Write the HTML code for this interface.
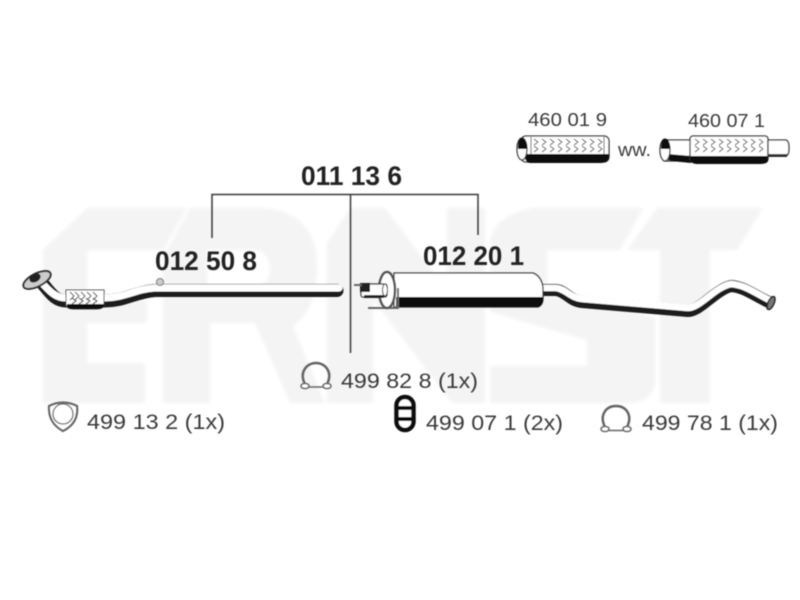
<!DOCTYPE html>
<html><head><meta charset="utf-8"><style>
html,body{margin:0;padding:0;background:#fff;width:800px;height:600px;overflow:hidden}
svg{display:block}
text{font-family:"Liberation Sans",sans-serif}
.b{font-weight:bold;font-size:26.5px;fill:#222}
.n{font-size:21.5px;fill:#3a3a3a}
.s{font-size:18.5px;fill:#3a3a3a}
</style></head><body>
<svg width="800" height="600" viewBox="0 0 800 600" xmlns="http://www.w3.org/2000/svg">
<defs><filter id="bl" x="-5%" y="-5%" width="110%" height="110%"><feGaussianBlur stdDeviation="0.45"/></filter>
<filter id="bw" x="-5%" y="-5%" width="110%" height="110%"><feGaussianBlur stdDeviation="1.5"/></filter></defs>
<rect width="800" height="600" fill="#fff"/>
<g fill="#f4f4f4" filter="url(#bw)">
<path d="M87 208H187L163 250H87V300H147V323H87V363H145V403H43V250Z"/>
<path d="M190 208H263Q317 212 317 267Q317 310 293 326L325 403H290L255 323H210V403H163V257Z M207 250V285H258Q272 282 270 266Q268 252 255 250Z" fill-rule="evenodd"/>
<path d="M327 243L350 208H385L447 290V208H485V403H452L373 300V403H327Z"/>
<path d="M533 208H643L620 250H547V285L655 318V385Q650 403 630 403H490V366H587V340L490 312V240Q495 215 533 208Z"/>
<path d="M657 208H763L737 250H710V403H660V250H627Z"/>
</g>
<g filter="url(#bl)">
<g stroke="#3a3a3a" stroke-width="1.5" fill="none">
<path d="M212 238V194.500H478V235"/>
<path d="M350.500 194.500V353"/>
</g>
<text class="b" x="301" y="185" textLength="101" lengthAdjust="spacingAndGlyphs">011 13 6</text>
<text class="b" x="155" y="270" textLength="102" lengthAdjust="spacingAndGlyphs">012 50 8</text>
<text class="b" x="423" y="265" textLength="101" lengthAdjust="spacingAndGlyphs">012 20 1</text>
<text class="s" x="528" y="126" textLength="79" lengthAdjust="spacingAndGlyphs">460 01 9</text>
<text class="s" x="688" y="127" textLength="77" lengthAdjust="spacingAndGlyphs">460 07 1</text>
<text class="s" x="618" y="156" textLength="33" lengthAdjust="spacingAndGlyphs">ww.</text>
<text class="n" x="341" y="388" textLength="137" lengthAdjust="spacingAndGlyphs">499 82 8 (1x)</text>
<text class="n" x="87" y="429" textLength="138" lengthAdjust="spacingAndGlyphs">499 13 2 (1x)</text>
<text class="n" x="426" y="430" textLength="137" lengthAdjust="spacingAndGlyphs">499 07 1 (2x)</text>
<text class="n" x="642" y="430" textLength="136" lengthAdjust="spacingAndGlyphs">499 78 1 (1x)</text>

<!-- front pipe 012 50 8 -->
<g fill="none" stroke-linecap="round" stroke-linejoin="round">
<path d="M42 283C50 292 55 301 66 301H104C125 301 135 292 155 290.500H337" stroke="#1c1c1c" stroke-width="13"/>
<path d="M40 281C48 289 54 298 66 298H104C125 298 135 289 155 288H339" stroke="#fff" stroke-width="7"/>
</g>
<path d="M66 290H104V304Q104 309 96 309H74Q66 309 66 304Z" fill="#fff" stroke="#444"/>
<path d="M67 304H104V306Q103 309 96 309H74Q67 309 67 306Z" fill="#111"/>
<path d="M70 292l4 4-4 4M75 292l4 4-4 4M81 292l4 4-4 4M87 292l4 4-4 4M93 292l4 4-4 4M72 298l4 3-4 3M79 298l4 3-4 3M86 298l4 3-4 3M93 298l4 3-4 3" fill="none" stroke="#555" stroke-width="1.100"/>
<ellipse cx="37" cy="280" rx="15" ry="6.500" transform="rotate(-27 37 280)" fill="#ccc" stroke="#333" stroke-width="2"/>
<ellipse cx="35" cy="278" rx="6" ry="4" transform="rotate(-27 35 278)" fill="#222"/>
<circle cx="160" cy="282" r="3.500" fill="#ccc" stroke="#777"/>

<!-- middle silencer 012 20 1 -->
<g fill="none" stroke-linejoin="round">
<path d="M540 290H556C566 291 570 301 582 302L688 311C700 311 715 290 731 286C745 287 755 296 771 303" stroke="#1c1c1c" stroke-width="12"/>
<path d="M540 288H556C566 289 570 298 582 299L688 308C700 308 715 287 731 284C745 285 755 293 771 301" stroke="#fff" stroke-width="6.500"/>
</g>
<ellipse cx="771" cy="303" rx="3" ry="7" transform="rotate(25 771 303)" fill="#777" stroke="#222" stroke-width="1.500"/>
<path d="M394 273H533Q541 276 543 287V298Q543 305 538 307H394Z" fill="#fff" stroke="#333" stroke-width="1.300"/>
<path d="M396 297H543V299Q543 305 538 307H396Z" fill="#111"/>
<path d="M368 308H398V288" fill="none" stroke="#666" stroke-width="2"/>
<ellipse cx="387" cy="290" rx="8" ry="18" fill="#fff" stroke="#555" stroke-width="2.500"/>
<rect x="361" y="284" width="26" height="13" rx="2" fill="#fff" stroke="#333" stroke-width="1.300"/>
<path d="M360 283H370V292H360Z" fill="#222"/>
<path d="M364 295H384V298H364Z" fill="#222"/>
<path d="M354 285H362" stroke="#666" stroke-width="2"/>
<ellipse cx="385" cy="290" rx="2.500" ry="6" fill="#fff" stroke="#333"/>

<!-- flex pipe 460 01 9 -->
<rect x="521" y="136" width="88" height="26" rx="5" fill="#fff" stroke="#333" stroke-width="1.300"/>
<path d="M525 154H609V157Q608 163 600 163H530Q525 162 525 157Z" fill="#111"/>
<ellipse cx="522" cy="149" rx="5" ry="11" fill="#fff" stroke="#333" stroke-width="1.300"/>
<path d="M518 149Q518 138 522 138Q527 138 527 149Z" fill="#111"/>
<path d="M531 137V154M604 137V154" stroke="#555" stroke-width="1"/>
<path d="M534 139l4 3-4 3M542 139l4 3-4 3M550 139l4 3-4 3M558 139l4 3-4 3M566 139l4 3-4 3M574 139l4 3-4 3M582 139l4 3-4 3M590 139l4 3-4 3M598 139l4 3-4 3M534 146l4 3-4 3M542 146l4 3-4 3M550 146l4 3-4 3M558 146l4 3-4 3M566 146l4 3-4 3M574 146l4 3-4 3M582 146l4 3-4 3M590 146l4 3-4 3M598 146l4 3-4 3" fill="none" stroke="#777" stroke-width="1.100"/>

<!-- flex pipe 460 07 1 -->
<path d="M664 140H691V160L676 161H664Z" fill="#fff" stroke="#333" stroke-width="1.300"/>
<path d="M668 154L691 156V163L676 161.500L668 160Z" fill="#111"/>
<rect x="690" y="136" width="78" height="26" rx="3" fill="#fff" stroke="#333" stroke-width="1.300"/>
<path d="M690 156H768V161Q767 164 760 164H696Q690 163 690 160Z" fill="#111"/>
<path d="M768 140H786Q789 141 789 148Q789 155 786 156H768Z" fill="#fff" stroke="#333" stroke-width="1.300"/>
<path d="M768 154H787V157H768Z" fill="#333"/>
<ellipse cx="665" cy="150" rx="5" ry="11" fill="#fff" stroke="#333" stroke-width="1.300"/>
<path d="M661 149Q661 139 665 139Q670 139 670 149Z" fill="#111"/>
<path d="M695 139l4 3-4 3M703 139l4 3-4 3M711 139l4 3-4 3M719 139l4 3-4 3M727 139l4 3-4 3M735 139l4 3-4 3M743 139l4 3-4 3M751 139l4 3-4 3M759 139l4 3-4 3M695 146l4 3-4 3M703 146l4 3-4 3M711 146l4 3-4 3M719 146l4 3-4 3M727 146l4 3-4 3M735 146l4 3-4 3M743 146l4 3-4 3M751 146l4 3-4 3M759 146l4 3-4 3" fill="none" stroke="#777" stroke-width="1.100"/>

<!-- clamp 499 82 8 -->
<g fill="none" stroke="#666" stroke-width="2.500">
<path d="M305 384C299 373 306 363 316 363C326 363 333 373 327 384"/>
<path d="M309 387H323" stroke-width="1.500"/>
</g>
<g fill="#fff" stroke="#666" stroke-width="1.600"><ellipse cx="305" cy="386" rx="4" ry="2.500"/><ellipse cx="327" cy="386" rx="4" ry="2.500"/></g>
<!-- clamp 499 13 2 -->
<path d="M49 406Q63 399 77 406Q79 423 63 431Q48 423 49 406Z" fill="#fff" stroke="#666" stroke-width="2.200"/>
<circle cx="63" cy="414" r="10" fill="#fff" stroke="#666" stroke-width="1.300"/>
<!-- hanger 499 07 1 -->
<rect x="396.500" y="397" width="17" height="33" rx="8.500" fill="#fff" stroke="#111" stroke-width="4.500"/>
<path d="M397 408H413M397 419H413" stroke="#111" stroke-width="4"/>
<!-- clamp 499 78 1 -->
<g fill="none" stroke="#666" stroke-width="2.500">
<path d="M605 427C599 415 606 406 616 406C626 406 633 415 627 427"/>
<path d="M609 430.500H623" stroke-width="1.500"/>
</g>
<g fill="#fff" stroke="#666" stroke-width="1.600"><ellipse cx="605" cy="429" rx="4" ry="2.500"/><ellipse cx="627" cy="429" rx="4" ry="2.500"/></g>
</g>
</svg>
</body></html>
